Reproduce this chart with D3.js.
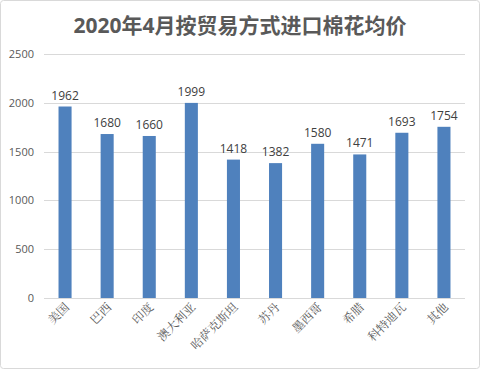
<!DOCTYPE html>
<meta charset="utf-8">
<script src="https://cdn.jsdelivr.net/npm/d3@7"></script>
<style>
body { margin: 0; background: #fff; }
text { font-family: "Open Sans", "Liberation Sans", sans-serif; fill: #595959; }
.title { font-family: "Open Sans", "Noto Sans CJK SC", sans-serif; font-weight: bold; font-size: 21px; }
.cat { font-family: "Noto Serif CJK SC", "Noto Sans CJK SC", serif; font-size: 12px; }
</style>
<body>
<script>

// data
var countries = ["美国", "巴西", "印度", "澳大利亚", "哈萨克斯坦", "苏丹", "墨西哥", "希腊", "科特迪瓦", "其他"];
var prices = [1962, 1680, 1660, 1999, 1418, 1382, 1580, 1471, 1693, 1754];
var yTicks = [0, 500, 1000, 1500, 2000, 2500];

var width = 480, height = 369;
var plotLeft = 44, plotRight = 465, plotTop = 54, plotBottom = 298;

var svg = d3.select("body").append("svg")
    .attr("width", width)
    .attr("height", height);

// chart border
svg.append("rect")
    .attr("x", 0.5).attr("y", 0.5)
    .attr("width", width - 1).attr("height", height - 1)
    .attr("rx", 3)
    .attr("fill", "#fff")
    .attr("stroke", "#d9d9d9");

svg.append("text")
    .attr("class", "title")
    .attr("x", width / 2)
    .attr("y", 33)
    .attr("text-anchor", "middle")
    .text("2020年4月按贸易方式进口棉花均价");

var x = d3.scaleBand()
    .domain(countries)
    .range([plotLeft, plotRight])
    .paddingInner(0.69)
    .paddingOuter(0.345);

var y = d3.scaleLinear()
    .domain([0, 2500])
    .range([plotBottom, plotTop]);

// gridlines
svg.append("g")
    .selectAll("line")
    .data(yTicks)
    .enter().append("line")
    .attr("x1", plotLeft).attr("x2", plotRight)
    .attr("y1", function(d) { return Math.round(y(d)) + 0.5; })
    .attr("y2", function(d) { return Math.round(y(d)) + 0.5; })
    .attr("stroke", "#d9d9d9");

// y tick labels
svg.append("g")
    .selectAll("text")
    .data(yTicks)
    .enter().append("text")
    .attr("x", 34)
    .attr("y", function(d) { return y(d) + 4; })
    .attr("text-anchor", "end")
    .style("font-size", "11px")
    .text(function(d) { return d; });

// bars
svg.append("g")
    .selectAll("rect")
    .data(prices)
    .enter().append("rect")
    .attr("x", function(d, i) { return x(countries[i]); })
    .attr("width", x.bandwidth())
    .attr("y", function(d) { return y(d); })
    .attr("height", function(d) { return y(0) - y(d); })
    .attr("fill", "#4f81bd");

// value labels
svg.append("g")
    .selectAll("text")
    .data(prices)
    .enter().append("text")
    .attr("x", function(d, i) { return x(countries[i]) + x.bandwidth() / 2; })
    .attr("y", function(d) { return y(d) - 7; })
    .attr("text-anchor", "middle")
    .style("font-size", "12px")
    .style("fill", "#404040")
    .text(function(d) { return d; });

// category labels
svg.append("g")
    .selectAll("text")
    .data(countries)
    .enter().append("text")
    .attr("class", "cat")
    .attr("text-anchor", "end")
    .attr("transform", function(d) {
        var cx = x(d) + x.bandwidth() / 2 + 5;
        return "translate(" + cx + "," + 308 + ") rotate(-45)";
    })
    .text(function(d) { return d; });

</script>
</body>
</html>
